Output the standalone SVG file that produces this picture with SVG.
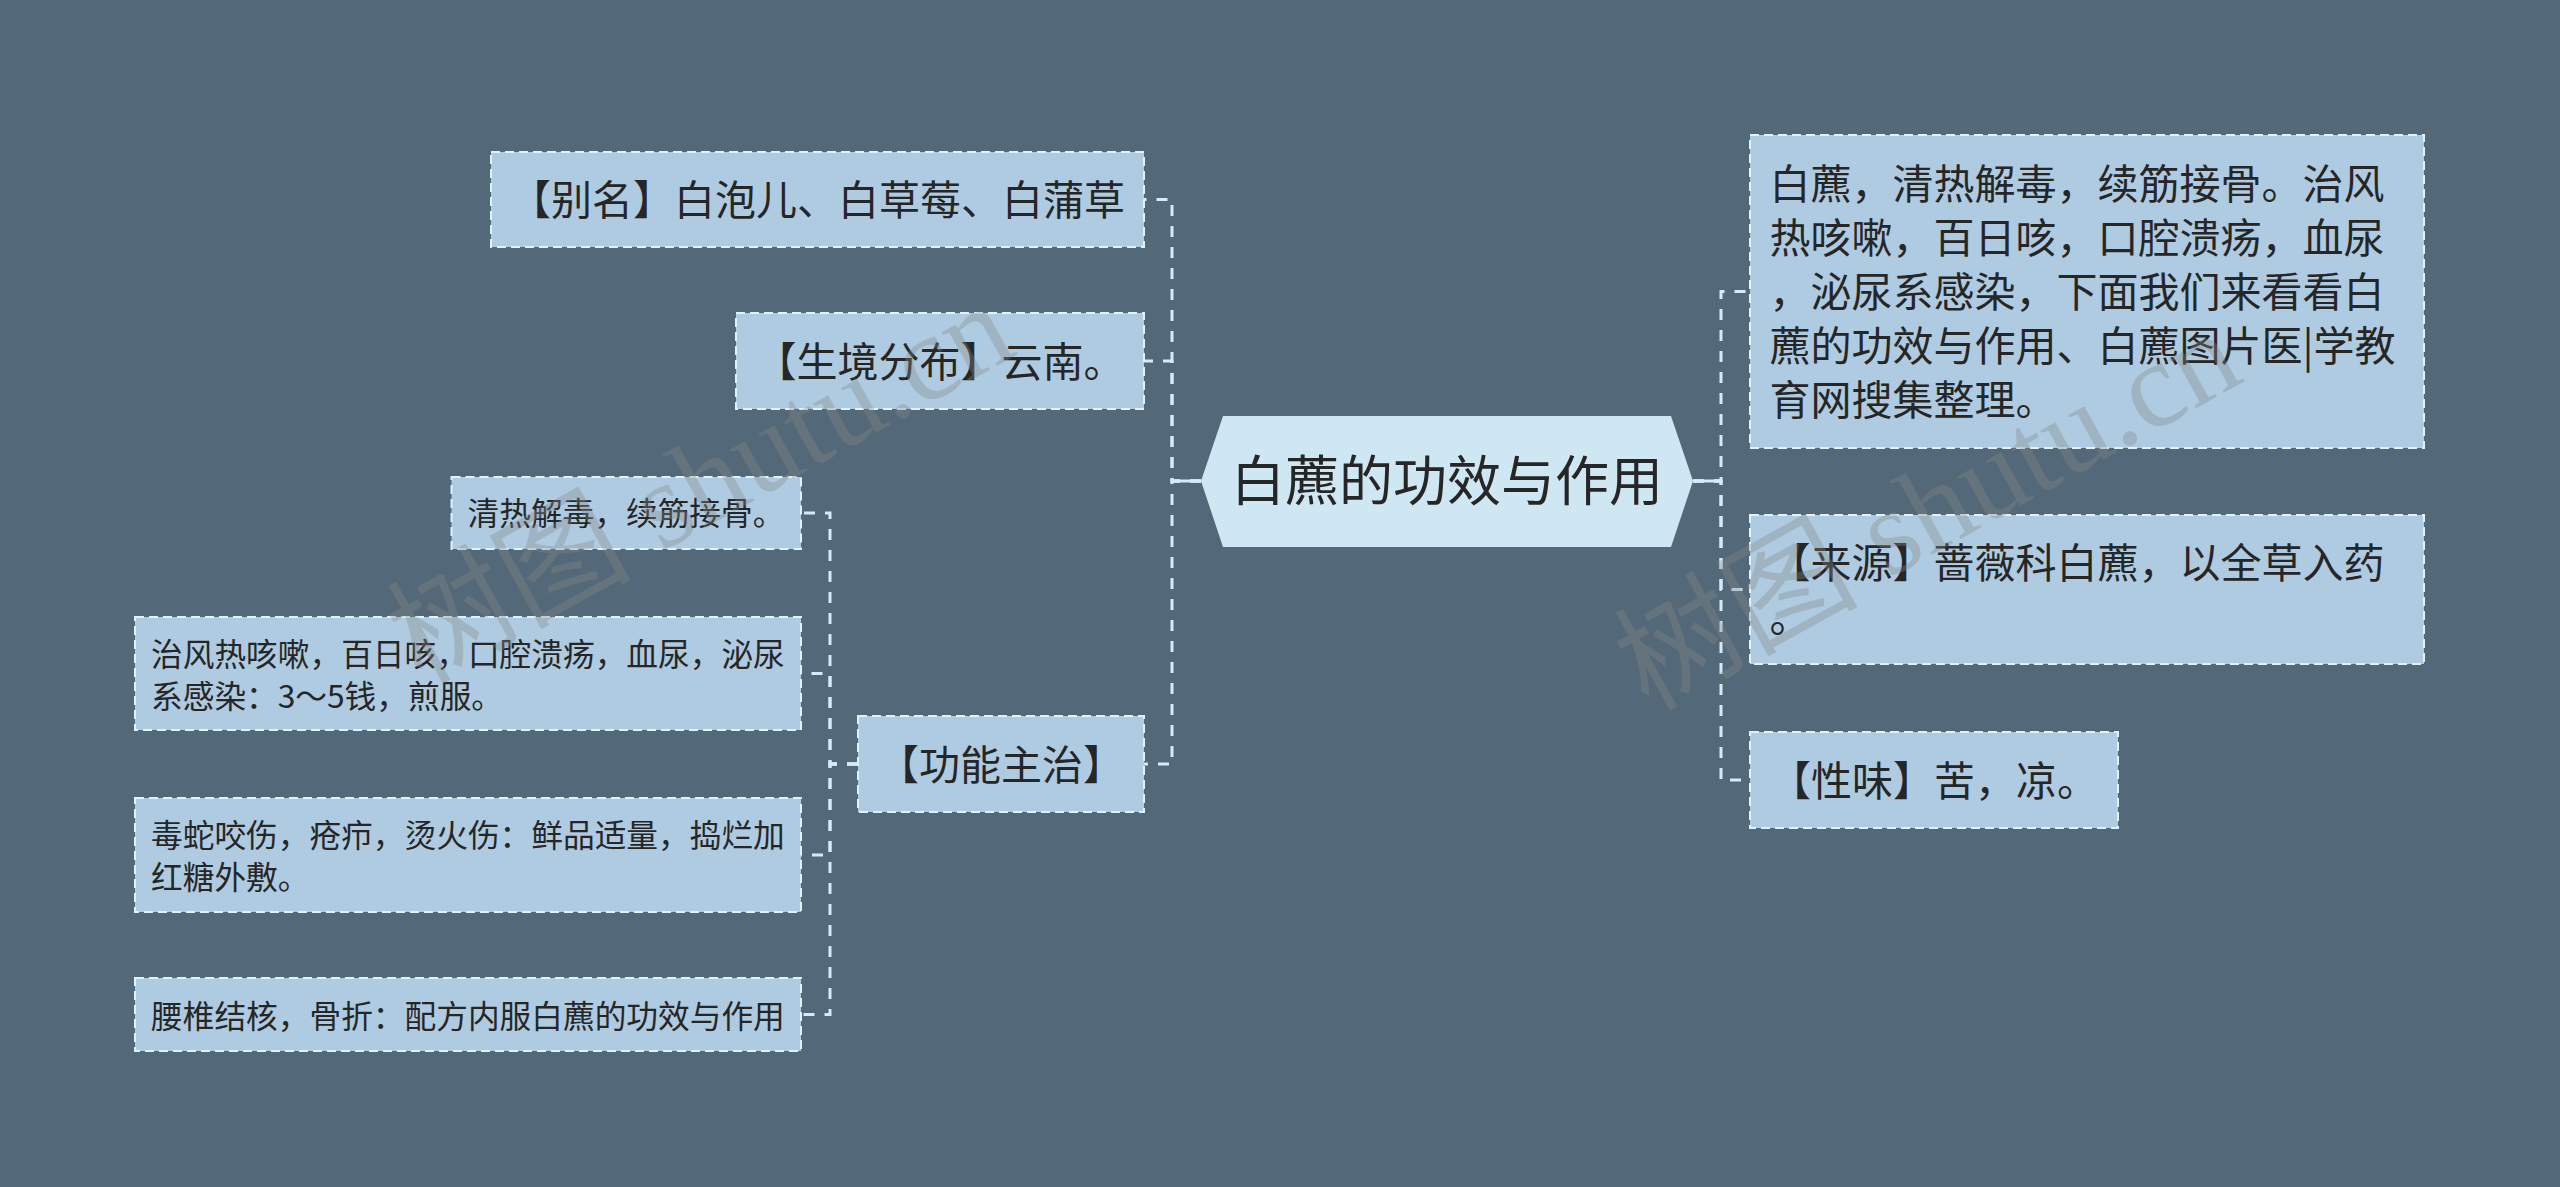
<svg xmlns="http://www.w3.org/2000/svg" width="2560" height="1187" viewBox="0 0 2560 1187">
<style>
.bg{fill:#536878}
.box{fill:#aecbe1;stroke:#e2f2fc;stroke-width:2;stroke-dasharray:9 5}
.root{fill:#cfe6f3}
.t{font-family:"Noto Sans CJK SC","Noto Sans",sans-serif;fill:#262626}
.m{font-size:41px}
.s{font-size:31.7px}
.r{font-size:54px}
.c{fill:none;stroke:#d5ebf8;stroke-width:3;stroke-dasharray:11 10}
.cs{fill:none;stroke:#d5ebf8;stroke-width:3}
.wm{font-family:"Liberation Serif","Noto Sans CJK SC",serif;font-size:122px;fill:#888;opacity:.35}
</style>
<rect class="bg" x="0" y="0" width="2560" height="1187"/>
<g id="connectors">
<path class="cs" d="M1201 481H1172M1693 481H1721"/>
<path class="c" d="M1201 481H1172V199.5H1144"/>
<path class="c" d="M1201 481H1172V361H1144"/>
<path class="c" d="M1201 481H1172V764H1144"/>
<path class="c" d="M1693 481H1721V291.5H1750"/>
<path class="c" d="M1693 481H1721V589.5H1750"/>
<path class="c" d="M1693 481H1721V780H1750"/>
<path class="c" d="M858 764H830V513H801"/>
<path class="c" d="M858 764H830V673.5H801"/>
<path class="c" d="M858 764H830V855H801"/>
<path class="c" d="M858 764H830V1014.5H801"/>
</g>
<g id="root">
<polygon class="root" points="1201,481 1223,416 1671,416 1693,481 1671,547 1223,547"/>
<text class="t r" x="1447" y="501" text-anchor="middle">白藨的功效与作用</text>
</g>
<g id="n-bieming">
<rect class="box" x="491" y="152" width="653" height="95"/>
<text class="t m" x="817.5" y="214.5" text-anchor="middle">【别名】白泡儿、白草莓、白蒲草</text>
</g>
<g id="n-shengjing">
<rect class="box" x="736" y="313" width="408" height="96"/>
<text class="t m" x="940" y="376.5" text-anchor="middle">【生境分布】云南。</text>
</g>
<g id="n-gongneng">
<rect class="box" x="858" y="716" width="286" height="96"/>
<text class="t m" x="1001" y="779.5" text-anchor="middle">【功能主治】</text>
</g>
<g id="n-qingre">
<rect class="box" x="451.5" y="477" width="349.5" height="72"/>
<text class="t s" x="467.5" y="525">清热解毒，续筋接骨。</text>
</g>
<g id="n-zhifeng">
<rect class="box" x="135" y="617" width="666" height="113"/>
<text class="t s" x="151" y="665.5">治风热咳嗽，百日咳，口腔溃疡，血尿，泌尿</text>
<text class="t s" x="151" y="707.5">系感染：3～5钱，煎服。</text>
</g>
<g id="n-dushe">
<rect class="box" x="135" y="798" width="666" height="114"/>
<text class="t s" x="151" y="847">毒蛇咬伤，疮疖，烫火伤：鲜品适量，捣烂加</text>
<text class="t s" x="151" y="889">红糖外敷。</text>
</g>
<g id="n-yaozhui">
<rect class="box" x="135" y="978" width="666" height="73"/>
<text class="t s" x="151" y="1027.5">腰椎结核，骨折：配方内服白藨的功效与作用</text>
</g>
<g id="n-desc">
<rect class="box" x="1750" y="135" width="674" height="313"/>
<text class="t m" x="1769.5" y="199">白藨，清热解毒，续筋接骨。治风</text>
<text class="t m" x="1769.5" y="253">热咳嗽，百日咳，口腔溃疡，血尿</text>
<text class="t m" x="1769.5" y="307">，泌尿系感染，下面我们来看看白</text>
<text class="t m" x="1769.5" y="361">藨的功效与作用、白藨图片医|学教</text>
<text class="t m" x="1769.5" y="415">育网搜集整理。</text>
</g>
<g id="n-laiyuan">
<rect class="box" x="1750" y="515" width="674" height="149"/>
<text class="t m" x="1769.5" y="578">【来源】蔷薇科白藨，以全草入药</text>
<text class="t m" x="1769.5" y="632">。</text>
</g>
<g id="n-xingwei">
<rect class="box" x="1750" y="732" width="368" height="96"/>
<text class="t m" x="1770" y="795.5">【性味】苦，凉。</text>
</g>
<g id="watermarks">
<text class="wm" transform="translate(421,685) rotate(-29)">树图 shutu.cn</text>
<text class="wm" transform="translate(1648,712) rotate(-29)">树图 shutu.cn</text>
</g>
</svg>
